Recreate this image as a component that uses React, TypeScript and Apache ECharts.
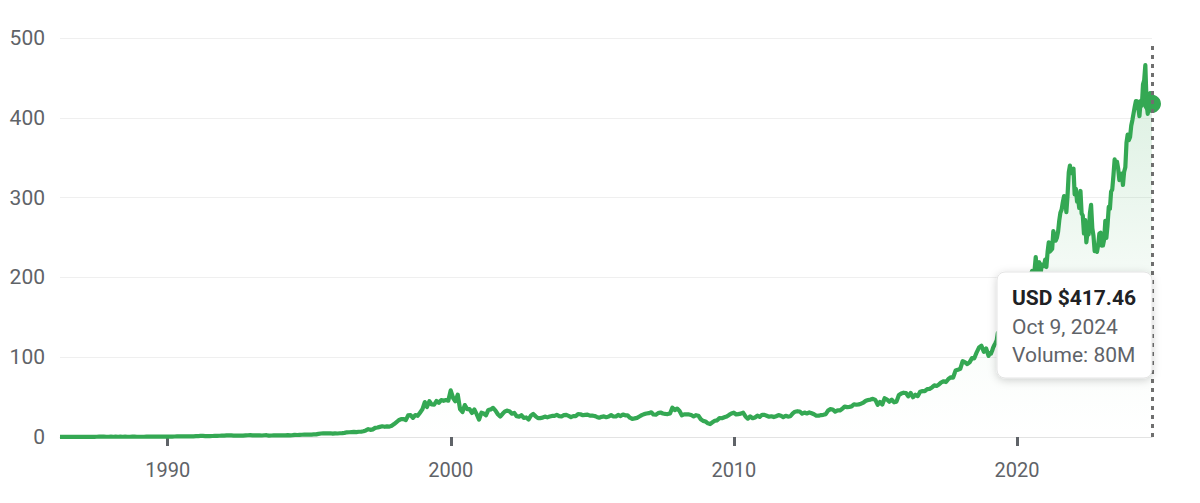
import React, { useEffect, useRef } from "react";
import * as echarts from "echarts";

// Month-end closes (USD, split-adjusted), Mar 1986 – Dec 1994
const closes1986to1994 = [
  0.10, 0.11, 0.11, 0.12, 0.11, 0.12, 0.13, 0.14, 0.14, 0.13,
  0.18, 0.24, 0.26, 0.27, 0.28, 0.30, 0.37, 0.40, 0.45, 0.33, 0.30, 0.36,
  0.34, 0.36, 0.33, 0.35, 0.34, 0.36, 0.34, 0.33, 0.35, 0.36, 0.34, 0.32,
  0.33, 0.34, 0.36, 0.38, 0.42, 0.46, 0.50, 0.48, 0.46, 0.44, 0.48, 0.44,
  0.48, 0.55, 0.62, 0.72, 0.85, 0.95, 0.90, 0.80, 0.78, 0.82, 0.85, 0.98,
  1.15, 1.35, 1.40, 1.20, 1.25, 1.20, 1.25, 1.40, 1.50, 1.55, 1.65, 1.70,
  1.95, 2.10, 2.00, 1.80, 1.75, 1.65, 1.70, 1.80, 2.00, 2.20, 2.30, 2.15,
  2.10, 2.00, 2.10, 1.90, 2.20, 2.25, 1.70, 1.90, 1.95, 2.00, 2.00, 2.02,
  2.20, 2.05, 2.30, 2.10, 2.25, 2.60, 2.50, 2.75, 2.80, 3.10, 3.00, 3.05,
];

// Month-end closes, Jan 1995 – Dec 2006
const closes1995to2006 = [
  3.00, 3.20, 3.25, 3.90, 4.40, 4.60, 4.55, 4.50, 4.65, 4.15, 4.55, 4.40,
  4.70, 4.85, 5.20, 5.90, 5.95, 6.15, 6.35, 6.15, 6.60, 6.55, 7.20, 8.25,
  9.80, 8.95, 9.60, 11.4, 11.9, 12.7, 13.4, 12.8, 13.3, 13.0, 14.1, 16.2,
  18.7, 21.0, 22.4, 22.5, 21.2, 27.1, 27.5, 24.0, 27.5, 26.5, 30.5, 34.7,
  43.8, 37.6, 44.8, 40.7, 40.4, 45.1, 42.9, 46.3, 45.3, 46.3, 45.5, 58.4,
  48.9, 44.7, 53.1, 34.9, 31.3, 40.0, 34.9, 34.9, 30.1, 34.4, 28.7, 21.7,
  30.5, 29.5, 27.3, 33.9, 34.6, 36.5, 33.1, 28.5, 25.6, 29.1, 32.1, 33.1,
  31.9, 29.2, 30.2, 26.1, 25.5, 27.4, 24.0, 24.5, 21.9, 26.7, 28.9, 25.9,
  23.7, 23.7, 24.2, 25.6, 24.6, 25.6, 26.4, 26.5, 27.8, 26.1, 25.7, 27.4,
  27.7, 26.5, 24.9, 26.1, 26.2, 28.6, 28.5, 27.3, 27.7, 28.0, 26.8, 26.7,
  26.3, 25.2, 24.2, 25.3, 25.8, 24.8, 25.6, 27.4, 25.7, 25.7, 27.7, 26.2,
  28.2, 27.2, 27.2, 24.2, 22.7, 23.3, 24.0, 25.7, 27.4, 28.7, 29.4, 29.9,
];

// Month-end closes, Jan 2007 – Dec 2018
const closes2007to2018 = [
  30.9, 28.2, 27.9, 29.9, 30.7, 29.5, 29.0, 28.7, 29.5, 36.8, 33.6, 35.6,
  32.6, 27.2, 28.4, 28.5, 28.3, 27.5, 25.7, 27.3, 26.7, 22.3, 20.2, 19.4,
  17.1, 16.2, 18.4, 20.3, 20.9, 23.8, 23.5, 24.7, 25.7, 27.7, 29.4, 30.5,
  28.2, 28.7, 29.3, 30.5, 25.8, 23.0, 25.8, 23.5, 24.5, 26.7, 25.3, 27.9,
  27.7, 26.6, 25.4, 26.0, 25.0, 26.0, 27.4, 26.6, 24.9, 26.6, 25.6, 26.0,
  29.5, 31.7, 32.3, 32.0, 29.2, 30.6, 29.5, 30.8, 29.8, 28.5, 26.6, 26.7,
  27.5, 27.8, 28.6, 33.1, 34.9, 34.5, 31.8, 33.4, 33.3, 35.4, 38.1, 37.4,
  37.8, 38.3, 41.0, 40.4, 40.9, 41.7, 43.2, 45.4, 46.4, 46.9, 47.8, 46.5,
  40.4, 43.9, 40.7, 48.6, 46.9, 44.2, 46.7, 43.5, 44.3, 52.6, 54.4, 55.5,
  55.1, 50.9, 55.2, 49.9, 53.0, 51.2, 56.7, 57.5, 57.6, 59.9, 60.3, 62.1,
  64.7, 64.0, 65.9, 68.5, 69.8, 68.9, 72.7, 74.8, 74.5, 83.2, 84.2, 85.5,
  95.0, 93.8, 91.3, 93.5, 98.8, 98.6, 106.1, 112.3, 114.4, 106.8, 110.9, 101.6,
];

// Mid-month (15th) values, Jan 2019 – Sep 2024
const mid2019to2024 = [
  105, 108, 115, 121, 126, 132, 137, 134, 137, 139, 149, 155,
  163, 185, 140, 165, 183, 193, 208, 208, 205, 219, 216, 214,
  213, 244, 234, 258, 246, 257, 281, 294, 300, 302, 340, 335,
  304, 295, 287, 280, 255, 244, 254, 291, 252, 235, 241, 256,
  240, 271, 265, 286, 310, 348, 345, 322, 330, 332, 369, 372,
  390, 406, 421, 413, 421, 442, 466, 405, 431,
];

// Month-end closes, Jan 2019 – Sep 2024
const closes2019to2024 = [
  104.4, 112.0, 117.9, 130.6, 123.7, 134.0, 136.3, 137.9, 139.0, 143.4, 151.4, 157.7,
  170.2, 162.0, 157.7, 179.2, 183.3, 203.5, 205.0, 225.5, 210.3, 202.5, 214.1, 222.4,
  232.0, 232.4, 235.8, 252.2, 249.7, 270.9, 284.9, 301.9, 281.9, 331.6, 330.6, 336.3,
  311.0, 298.8, 308.3, 277.5, 271.9, 256.8, 280.7, 261.5, 232.9, 232.1, 255.1, 239.8,
  247.8, 249.4, 288.3, 307.3, 328.4, 340.5, 335.9, 327.8, 315.8, 338.1, 378.9, 376.0,
  397.6, 413.6, 420.7, 402.0, 415.1, 447.0, 418.4, 417.1, 430.3,
];

const firstDay = { date: "1986-03-13", close: 0.10 };
const lastDay = { date: "2024-10-09", close: 417.46, label: "Oct 9, 2024", volume: "80M" };

const yTicks = [0, 100, 200, 300, 400, 500];
const decadeTicks = [1990, 2000, 2010, 2020];

const GREEN = "#34a853";

function monthEnd(y: number, m: number) {
  return Date.UTC(y, m + 1, 0);
}

function buildSeries(): [number, number][] {
  const pts: [number, number][] = [];
  pts.push([Date.parse(firstDay.date), firstDay.close]);
  const addMonthly = (arr: number[], y0: number, m0: number) => {
    arr.forEach((v, i) => {
      const mm = m0 + i;
      pts.push([monthEnd(y0 + Math.floor(mm / 12), mm % 12), v]);
    });
  };
  addMonthly(closes1986to1994, 1986, 2);
  addMonthly(closes1995to2006, 1995, 0);
  addMonthly(closes2007to2018, 2007, 0);
  mid2019to2024.forEach((v, i) => {
    const y = 2019 + Math.floor(i / 12);
    const m = i % 12;
    pts.push([Date.UTC(y, m, 15), v]);
    if (i < closes2019to2024.length) pts.push([monthEnd(y, m), closes2019to2024[i]]);
  });
  pts.push([Date.parse(lastDay.date), lastDay.close]);
  pts.sort((a, b) => a[0] - b[0]);
  return pts;
}

export default function App() {
  const ref = useRef<HTMLDivElement>(null);
  useEffect(() => {
    if (!ref.current) return;
    const chart = echarts.init(ref.current, undefined, { renderer: "svg" });
    const data = buildSeries();
    const last = data[data.length - 1];
    const font = "Roboto, 'Noto Sans', sans-serif";
    const decadeTs = decadeTicks.map((y) => Date.UTC(y, 0, 1));
    const tipText = (text: string, y: number, bold: boolean) => ({
      type: "text",
      x: 1012,
      y,
      z: 101,
      style: {
        text,
        fill: bold ? "#202124" : "#5f6368",
        fontSize: 21,
        fontWeight: bold ? "bold" : "normal",
        fontFamily: font,
        verticalAlign: "middle",
      },
    });
    chart.setOption({
      animation: false,
      backgroundColor: "#ffffff",
      grid: { left: 60, right: 48, top: 38, bottom: 66 },
      xAxis: {
        type: "value",
        min: Date.parse(firstDay.date),
        max: Date.parse(lastDay.date),
        axisLine: { show: true, onZero: false, lineStyle: { color: "#e3e3e3", width: 1 } },
        axisTick: {
          show: true,
          customValues: decadeTs,
          length: 9,
          lineStyle: { color: "#5f6368", width: 3 },
        },
        axisLabel: {
          customValues: decadeTs,
          formatter: (v: number) => String(new Date(v).getUTCFullYear()),
          color: "#5f6368",
          fontSize: 20,
          fontFamily: font,
          margin: 23,
        },
        splitLine: { show: false },
      },
      yAxis: {
        type: "value",
        min: yTicks[0],
        max: yTicks[yTicks.length - 1],
        interval: 100,
        axisLine: { show: false },
        axisTick: { show: false },
        axisLabel: { color: "#5f6368", fontSize: 21, fontFamily: font, margin: 15 },
        splitLine: { lineStyle: { color: "#efefef", width: 1 } },
      },
      series: [
        {
          type: "line",
          data,
          showSymbol: false,
          symbol: "none",
          lineStyle: { color: GREEN, width: 4.2, join: "round" },
          areaStyle: {
            color: new echarts.graphic.LinearGradient(0, 0, 0, 1, [
              { offset: 0, color: "rgba(52,168,83,0.26)" },
              { offset: 0.6, color: "rgba(52,168,83,0.06)" },
              { offset: 1, color: "rgba(52,168,83,0.0)" },
            ]),
          },
          markLine: {
            silent: true,
            symbol: "none",
            label: { show: false },
            lineStyle: { color: "#6f6f6f", width: 3, type: [4, 5] },
            data: [
              [
                { coord: [last[0], 490] },
                { coord: [last[0], 0] },
              ],
            ],
          },
          z: 3,
        },
        {
          type: "scatter",
          data: [last],
          symbol: "circle",
          symbolSize: 18,
          itemStyle: { color: GREEN, opacity: 1 },
          z: 4,
        },
      ],
      graphic: {
        elements: [
          {
            type: "rect",
            z: 100,
            shape: { x: 997, y: 272, width: 155, height: 106, r: 8 },
            style: {
              fill: "#ffffff",
              stroke: "#e4e4e4",
              lineWidth: 1,
              shadowBlur: 8,
              shadowOffsetY: 2,
              shadowColor: "rgba(0,0,0,0.18)",
            },
          },
          tipText(`USD $${lastDay.close.toFixed(2)}`, 298, true),
          tipText(lastDay.label, 327, false),
          tipText(`Volume: ${lastDay.volume}`, 355, false),
        ],
      },
    });
    return () => chart.dispose();
  }, []);
  return (
    <div
      ref={ref}
      style={{ position: "fixed", left: 0, top: 0, width: 1200, height: 503, background: "#fff" }}
    />
  );
}
